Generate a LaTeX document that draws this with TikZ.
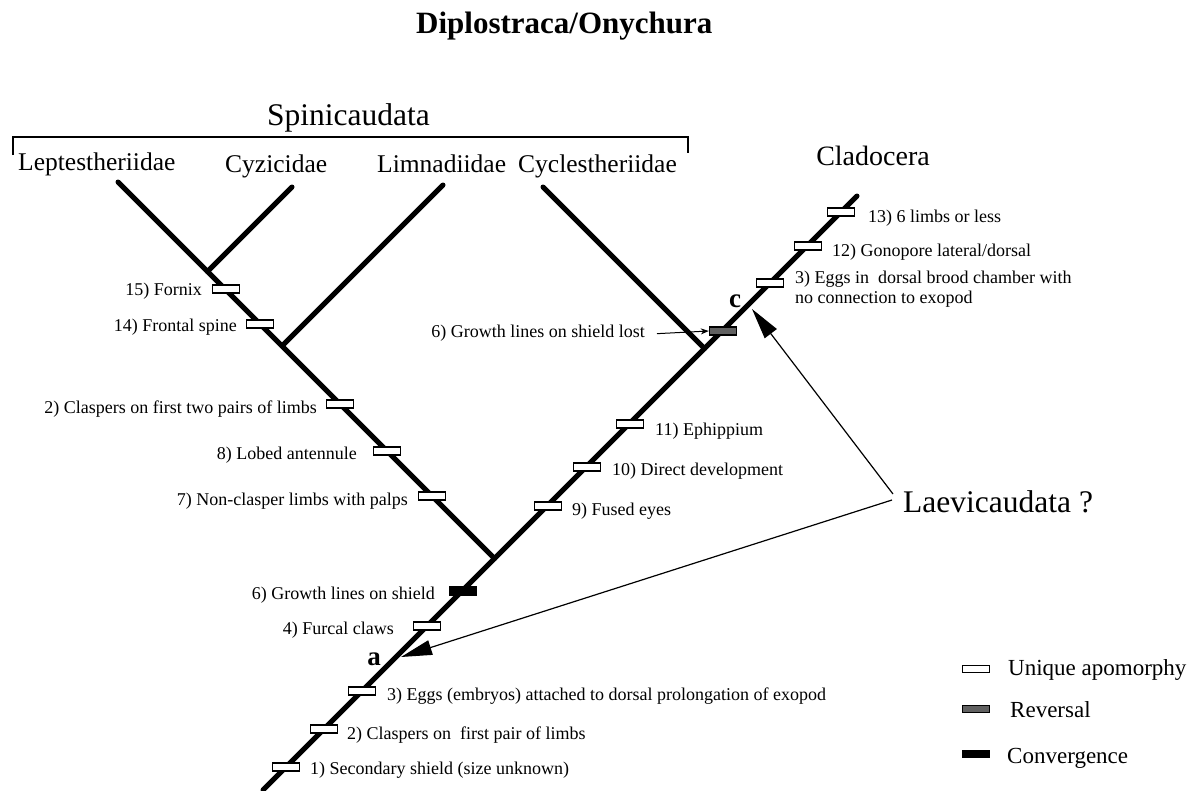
\documentclass[tikz,border=0pt]{standalone}
\usepackage{fontspec}
\setmainfont{Liberation Serif}
\usetikzlibrary{arrows.meta,calc}
\begin{document}
\begin{tikzpicture}[x=1bp,y=-1bp,
  branch/.style={line width=5bp,line cap=round},
  apo/.style={rectangle,draw,line width=1.4bp,fill=white,minimum width=27bp,minimum height=8bp,inner sep=0pt},
  rev/.style={apo,fill=black!62},
  conv/.style={apo,fill=black},
  lbl/.style={inner sep=0pt,font=\fontsize{18bp}{20bp}\selectfont},
  fam/.style={inner sep=0pt,font=\fontsize{25.5bp}{28bp}\selectfont},
  big/.style={inner sep=0pt,font=\fontsize{31.5bp}{34bp}\selectfont},
  letter/.style={inner sep=0pt,font=\fontsize{27bp}{30bp}\selectfont\bfseries},
  leg/.style={inner sep=0pt,font=\fontsize{23bp}{26bp}\selectfont},
  thin/.style={line width=1.2bp},
  bigarrow/.style={thin,-{Triangle[length=31bp,width=15bp]}},
]
\useasboundingbox (0,0) rectangle (1204,791);

% title
\node[inner sep=0pt,anchor=base west,font=\fontsize{31bp}{33bp}\selectfont\bfseries] (title) at (416,34) {Diplostraca/Onychura};

% group labels
\node[big,anchor=base west] (spini) at (267,125) {Spinicaudata};
\draw[thin] (13,155) -- (13,137) -- (688,137) -- (688,153);
\node[fam,anchor=base west] (lLe) at (18,170) {Leptestheriidae};
\node[fam,anchor=base west] (lCy) at (225,172) {Cyzicidae};
\node[fam,anchor=base west] (lLi) at (377,172) {Limnadiidae};
\node[fam,anchor=base west] (lCe) at (518,172) {Cyclestheriidae};
\node[inner sep=0pt,anchor=base,font=\fontsize{28bp}{30bp}\selectfont] (lCl) at (873,165) {Cladocera};

% tree coordinates
\coordinate (root) at (263,790);
\coordinate (clado) at (857,196);
\coordinate (jS) at (494.5,558.5);
\coordinate (jC) at (704.5,348.5);
\coordinate (jCy) at (207.5,271.5);
\coordinate (jL) at (282,346);
\coordinate (tLe) at (118,182);
\coordinate (tCy) at (292,187);
\coordinate (tLi) at (443,185);
\coordinate (tCe) at (543,187);

\draw[branch] (root) -- (clado);
\draw[branch] (jS) -- (tLe);
\draw[branch] (jCy) -- (tCy);
\draw[branch] (jL) -- (tLi);
\draw[branch] (jC) -- (tCe);

% markers on main stem
\node[apo] (m1) at (286,767) {};
\node[apo] (m2) at (324,729) {};
\node[apo] (m3) at (362,691) {};
\node[apo] (m4) at (427,626) {};
\node[conv] (m6) at (463,591) {};
\node[apo] (m9) at (548,506) {};
\node[apo] (m10) at (587,467) {};
\node[apo] (m11) at (630,424) {};
\node[rev] (m6r) at (723,331) {};
\node[apo] (m3c) at (770,283) {};
\node[apo] (m12) at (808,246) {};
\node[apo] (m13) at (841,212) {};

% markers on Spinicaudata stem
\node[apo] (m15) at (226,289) {};
\node[apo] (m14) at (260,324) {};
\node[apo] (m2s) at (340,404) {};
\node[apo] (m8) at (387,451) {};
\node[apo] (m7) at (432,496) {};

% labels left
\node[lbl,anchor=base east] (t15) at (202,295) {15) Fornix};
\node[lbl,anchor=base east] (t14) at (237,331) {14) Frontal spine};
\node[lbl,anchor=base east] (t2s) at (317,413) {2) Claspers on first two pairs of limbs};
\node[lbl,anchor=base east] (t8) at (357,459) {8) Lobed antennule};
\node[lbl,anchor=base east] (t7) at (408,505) {7) Non-clasper limbs with palps};
\node[lbl,anchor=base east] (t6) at (435,599) {6) Growth lines on shield};
\node[lbl,anchor=base east] (t4) at (394,634) {4) Furcal claws};
\node[lbl,anchor=base east] (lost) at (645,337) {6) Growth lines on shield lost};

% labels right
\node[lbl,anchor=base west] (t3) at (387,700) {3) Eggs (embryos) attached to dorsal prolongation of exopod};
\node[lbl,anchor=base west] (t2) at (347,739) {2) Claspers on\ \ first pair of limbs};
\node[lbl,anchor=base west] (t1) at (310,774) {1) Secondary shield (size unknown)};
\node[lbl,anchor=base west] (t9) at (572,515) {9) Fused eyes};
\node[lbl,anchor=base west] (t10) at (612,475) {10) Direct development};
\node[lbl,anchor=base west] (t11) at (655,435) {11) Ephippium};
\node[lbl,anchor=base west] (t13) at (868,222) {13) 6 limbs or less};
\node[lbl,anchor=base west] (t12) at (832,256) {12) Gonopore lateral/dorsal};
\node[lbl,anchor=base west,align=left] (t3c) at (795,303) {3) Eggs in\ \ dorsal brood chamber with\\no connection to exopod};

% node letters
\node[letter,anchor=base] (la) at (374,665) {a};
\node[letter,anchor=base] (lc) at (735,307) {c};

% small arrow to reversal
\draw[line width=1bp,-{Stealth[length=8bp,width=6bp]}] ([xshift=12bp,yshift=-1bp]lost.east) -- (m6r.west);

% Laevicaudata
\node[big,anchor=base west] (laev) at (903,512) {Laevicaudata ?};
\coordinate (laevU) at (893,494);
\coordinate (laevL) at (892,500);
\coordinate (tipC) at (752,309);
\coordinate (tipA) at (401,657);
\draw[bigarrow] (laevU) -- (tipC);
\draw[bigarrow] (laevL) -- (tipA);

% legend
\node[apo,minimum height=7bp] (g1) at (976,669) {};
\node[rev,minimum height=7bp] (g2) at (976,709) {};
\node[conv,minimum height=7bp] (g3) at (976,754) {};
\node[leg,anchor=base west] (g1t) at (1008,675) {Unique apomorphy};
\node[leg,anchor=base west] (g2t) at (1010,717) {Reversal};
\node[leg,anchor=base west] (g3t) at (1007,763) {Convergence};
\end{tikzpicture}
\end{document}
